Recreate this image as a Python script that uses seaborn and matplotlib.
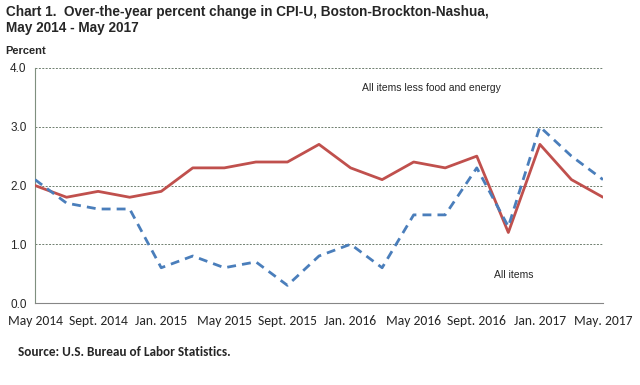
"""
Chart 1: Over-the-year percent change in CPI-U, Boston-Brockton-Nashua
"""

import numpy as np
import pandas as pd
import matplotlib
matplotlib.use('Agg')
import matplotlib.pyplot as plt
import seaborn as sns

# data (bimonthly, May 2014 - May 2017)
dates = pd.date_range('2014-05-01', '2017-05-01', freq='2MS')
all_items = [2.1, 1.7, 1.6, 1.6, 0.6, 0.8, 0.6, 0.7, 0.3, 0.8,
             1.0, 0.6, 1.5, 1.5, 2.3, 1.3, 3.0, 2.5, 2.1]
core_items = [2.0, 1.8, 1.9, 1.8, 1.9, 2.3, 2.3, 2.4, 2.4, 2.7,
              2.3, 2.1, 2.4, 2.3, 2.5, 1.2, 2.7, 2.1, 1.8]
x_labels = ['May 2014', 'Sept. 2014', 'Jan. 2015', 'May 2015', 'Sept. 2015',
            'Jan. 2016', 'May 2016', 'Sept. 2016', 'Jan. 2017', 'May. 2017']
y_ticks = [0.0, 1.0, 2.0, 3.0, 4.0]

# month offset from May 2014
months = (dates.year - 2014) * 12 + dates.month - 5
df = pd.DataFrame({'month': months, 'All items': all_items,
                   'All items less food and energy': core_items})

sns.set_style('white')
plt.rcParams['font.family'] = ['Liberation Sans', 'DejaVu Sans']

fig = plt.figure(figsize=(6.4, 3.85), dpi=100)
ax = fig.add_axes([35 / 640, 82 / 385, 568 / 640, 235 / 385])

sns.lineplot(data=df, x='month', y='All items less food and energy', ax=ax,
             color='#C0504D', linewidth=2.0, zorder=3)
sns.lineplot(data=df, x='month', y='All items', ax=ax,
             color='#4A7EBB', linewidth=2.0, linestyle=(0, (3.2, 2.2)), zorder=4)

ax.set_xlim(0, 36)
ax.set_ylim(0, 4)
ax.set_xlabel('')
ax.set_ylabel('')

# gridlines
for y in y_ticks[1:]:
    ax.axhline(y, color='#6f7f6f', linewidth=0.7, linestyle=(0, (2, 1.5)), zorder=1)

ax.set_yticks(y_ticks)
ax.set_yticklabels([f'{v:.1f}' for v in y_ticks], fontsize=8.5)
ax.set_xticks(np.arange(0, 37, 3))
ax.set_xticklabels([])
ax.tick_params(axis='x', direction='inout', length=7, width=0.8, color='#868686')
ax.tick_params(axis='y', length=0, pad=6)

# labels every 4 months, no tick marks
for i, lab in enumerate(x_labels):
    ax.text(i * 4, -0.2, lab, ha='center', va='top', fontsize=9.8,
            family=['Carlito', 'Liberation Sans', 'DejaVu Sans'], clip_on=False)

for side in ['top', 'right']:
    ax.spines[side].set_visible(False)
ax.spines['left'].set_color('#7f8f7f')
ax.spines['bottom'].set_color('#868686')
ax.spines['left'].set_linewidth(0.8)
ax.spines['bottom'].set_linewidth(0.8)

ax.text(20.7, 3.61, 'All items less food and energy', fontsize=7.5)
ax.text(29.1, 0.43, 'All items', fontsize=7.5)

fig.text(6 / 640, 1 - 5 / 385, 'Chart 1.  Over-the-year percent change in CPI-U, Boston-Brockton-Nashua,\nMay 2014 - May 2017',
         ha='left', va='top', fontsize=9.8, fontweight='bold', linespacing=1.15,
         family=['Liberation Sans Narrow', 'Liberation Sans'])
fig.text(5 / 640, 1 - 46 / 385, 'Percent', ha='left', va='top', fontsize=8,
         fontweight='bold')
fig.text(18 / 640, 1 - 346 / 385, 'Source: U.S. Bureau of Labor Statistics.',
         ha='left', va='top', fontsize=9.5, fontweight='bold',
         family=['Carlito', 'Liberation Sans', 'DejaVu Sans'])

plt.savefig('out.png', dpi=100)
